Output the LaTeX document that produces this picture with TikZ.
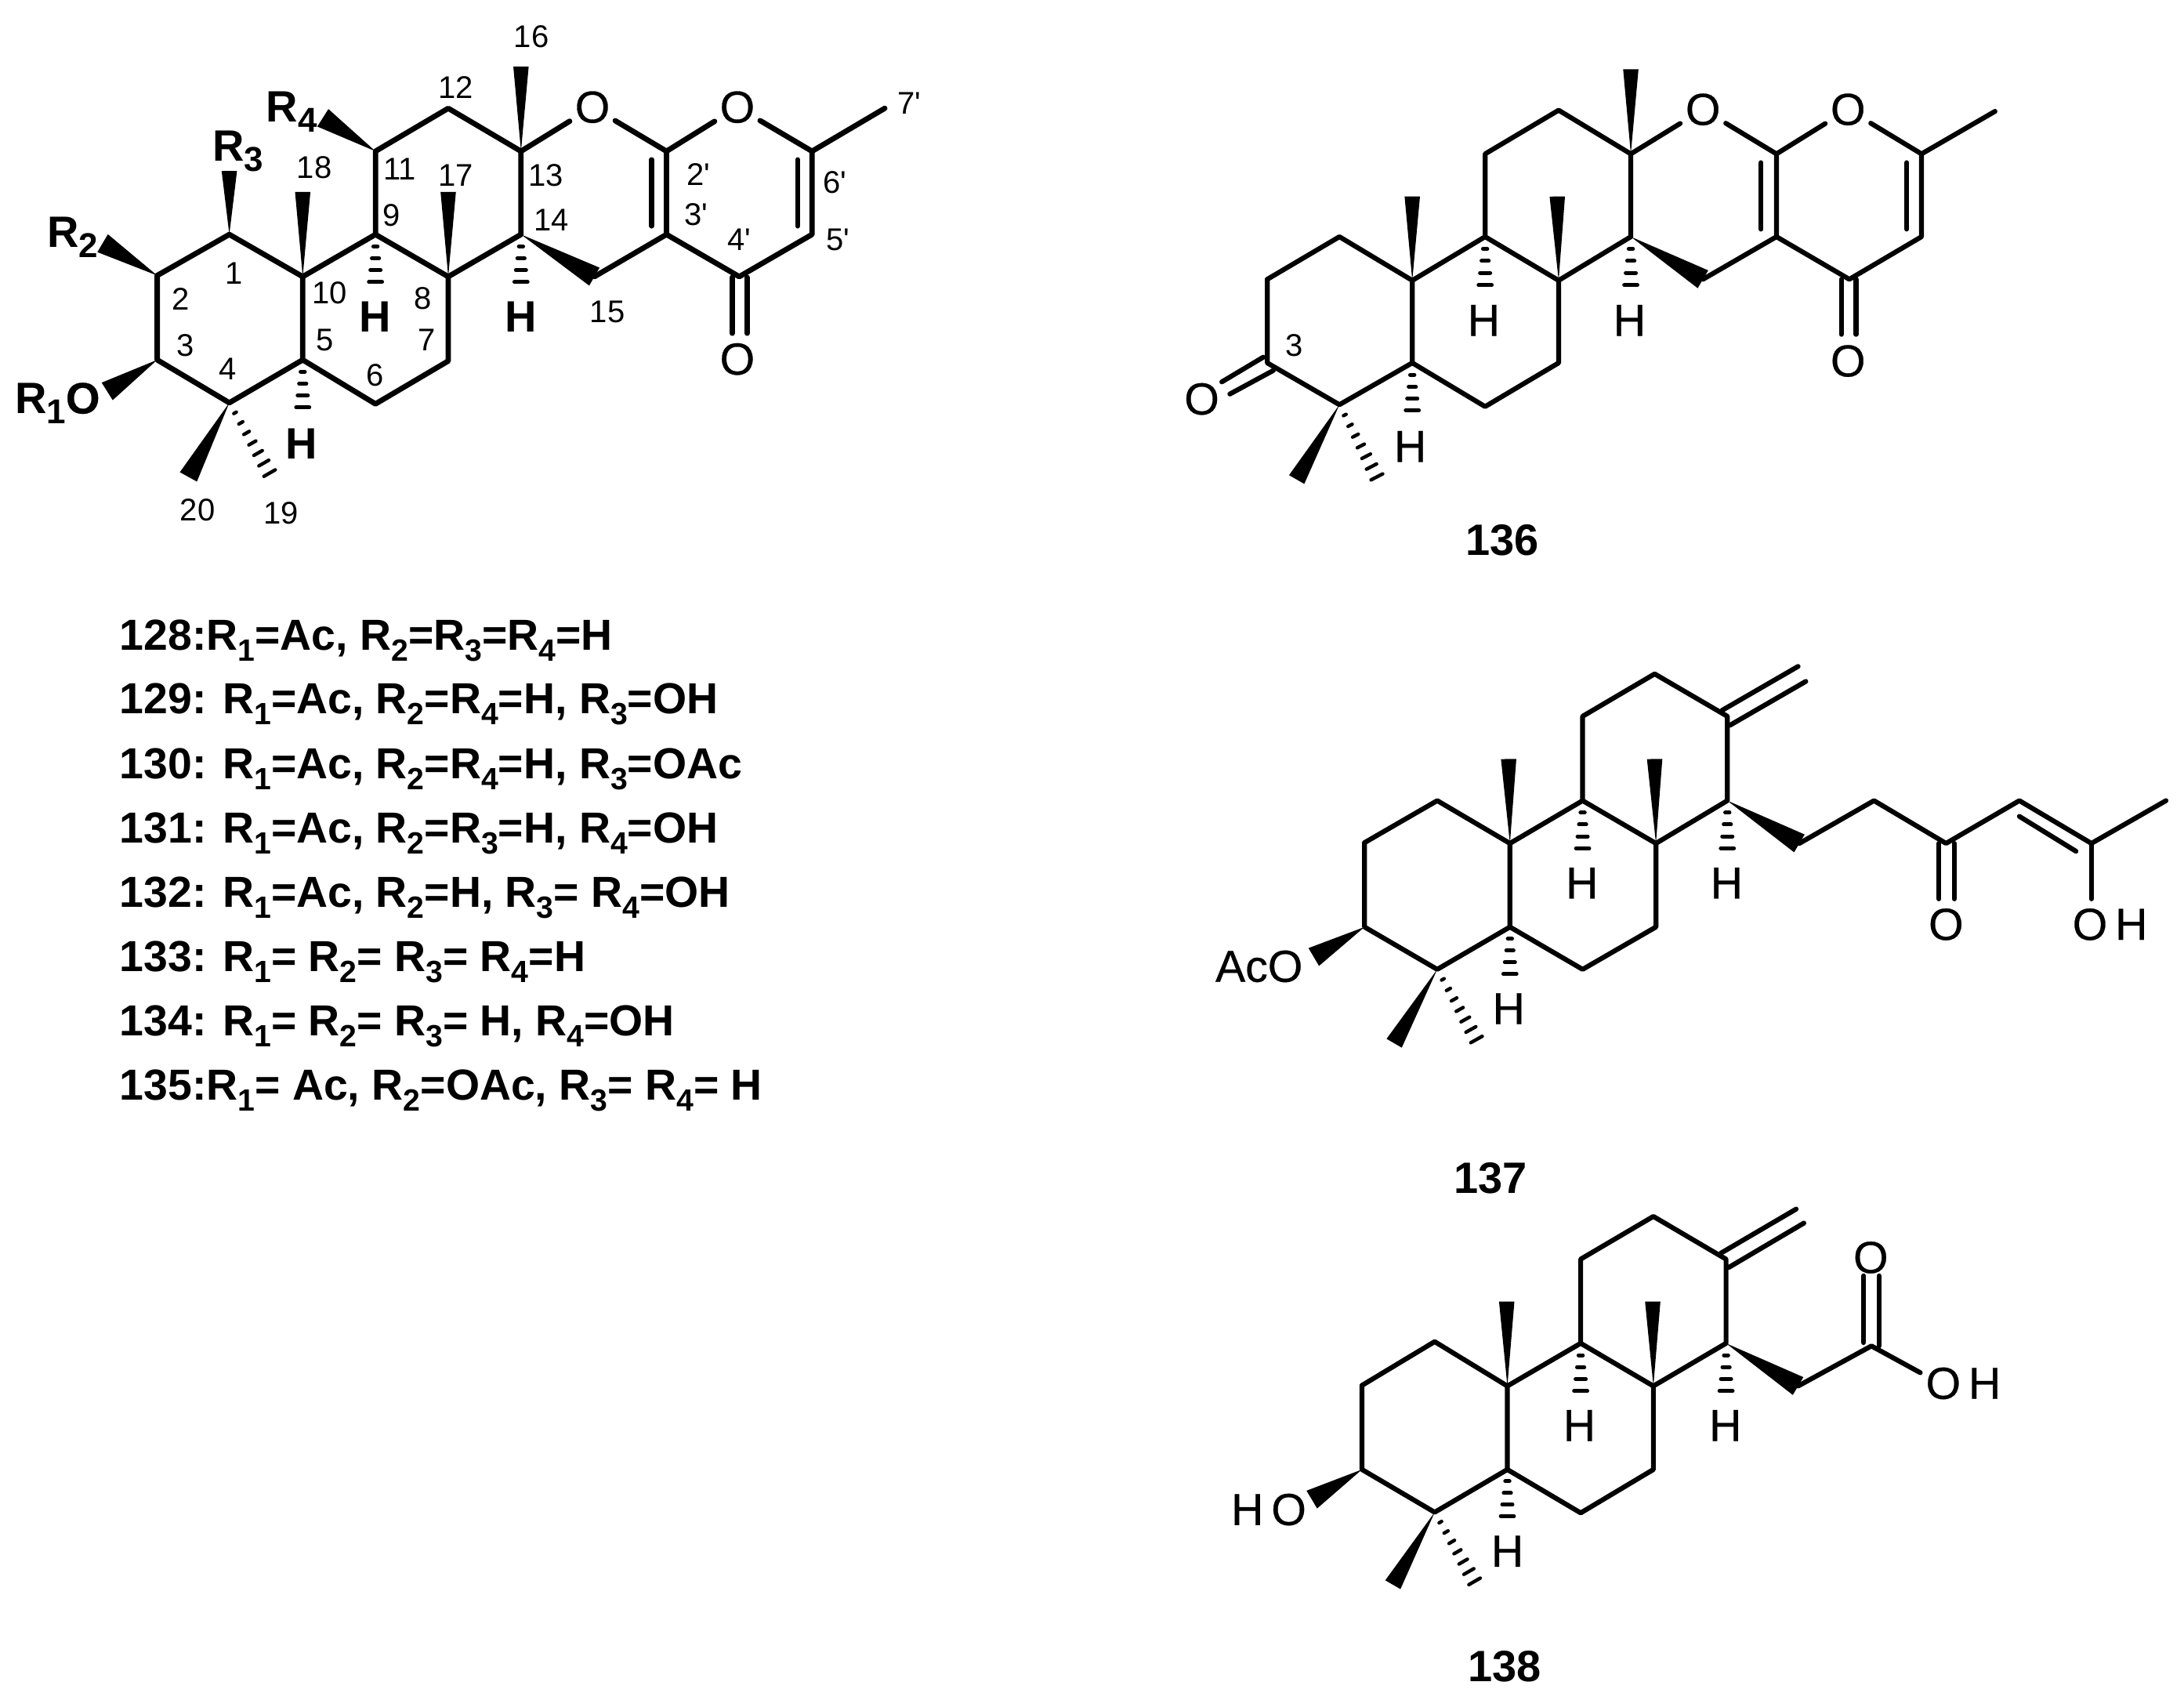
\documentclass[tikz,border=0pt]{standalone}
\usepackage{fontspec}
\setmainfont{Liberation Sans}
\newfontfamily\atomfont[FakeBold=0.5]{Liberation Sans}
\usetikzlibrary{calc}
\newcommand{\wdg}[3][2.45pt]{\fill (#2) -- ($(#3)!#1!90:(#2)$) -- ($(#3)!#1!-90:(#2)$) -- cycle;}
\newcommand{\hsh}[4][1.25pt]{%
  \foreach \i in {1,...,#4}{%
    \pgfmathsetmacro\hT{\i/#4}%
    \pgfmathsetlengthmacro\hW{0.2pt+1.9pt*\hT}%
    \path ($(#2)!\hT!(#3)$) coordinate (hm);
    \draw[line width=#1,line cap=round] ($(hm)!\hW!90:(#2)$) -- ($(hm)!\hW!-90:(#2)$);
  }}
\newcommand{\Rs}[1]{R\raisebox{-3.5pt}{\fontsize{9.8}{9.8}\selectfont #1}}
\newcommand{\Rt}[1]{R\raisebox{-3.3pt}{\fontsize{11}{11}\selectfont #1}}
\tikzset{
  bond/.style={line width=1.7pt,line join=round,line cap=round},
  thinb/.style={line width=1.55pt,line join=round,line cap=round},
  atom/.style={font=\fontsize{14.3}{14.3}\atomfont,inner sep=1.5pt},
  hatom/.style={font=\fontsize{14}{14}\bfseries\selectfont,inner sep=0pt},
  ratom/.style={font=\fontsize{14}{14}\bfseries\selectfont,inner sep=0pt,anchor=base west},
  num/.style={font=\fontsize{10}{10}\selectfont,inner sep=0pt},
  listline/.style={font=\fontsize{13.85}{13.85}\bfseries\selectfont,inner sep=0pt,anchor=base west},
  caption/.style={font=\fontsize{14}{14}\bfseries\selectfont,inner sep=0pt,anchor=base}
}
\begin{document}
\begin{tikzpicture}
\path[use as bounding box,fill=white] (0,0) rectangle (696.75pt,-542pt);
%% ---------------- general structure
\begin{scope}[x=.20725pt,y=-.1212pt]
\coordinate (a1) at (353,617); \coordinate (a2) at (242,725); \coordinate (a3) at (242,947);
\coordinate (a4) at (353,1060); \coordinate (a5) at (466,947); \coordinate (a6) at (578,1063);
\coordinate (a7) at (690,950); \coordinate (a8) at (690,728); \coordinate (a9) at (578,617);
\coordinate (a10) at (466,728); \coordinate (a11) at (578,398); \coordinate (a12) at (690,285);
\coordinate (a13) at (802,398); \coordinate (a14) at (802,617); \coordinate (a15) at (915,728);
\coordinate (a3p) at (1026,617); \coordinate (a2p) at (1026,398); \coordinate (a4p) at (1138,728);
\coordinate (a5p) at (1250,617); \coordinate (a6p) at (1250,398); \coordinate (a7p) at (1362,285);
\node[atom] (aO1) at (912,282) {O};
\node[atom] (aO2) at (1135,282) {O};
\node[atom] (aO3) at (1135,945) {O};
\draw[bond] (a2)--(a1)--(a10)--(a9)--(a8)--(a14)--(a13)--(a12)--(a11)--(a9);
\draw[bond] (a2)--(a3)--(a4)--(a5)--(a10);
\draw[bond] (a5)--(a6)--(a7)--(a8);
\draw[bond] (a13)--(aO1)--(a2p)--(aO2)--(a6p)--(a7p);
\draw[bond] (a2p)--(a3p)--(a15);
\draw[bond] (a3p)--(a4p)--(a5p)--(a6p);
\coordinate (ad1) at (1003,420); \coordinate (ad2) at (1003,595);
\coordinate (ad3) at (1228,420); \coordinate (ad4) at (1228,595);
\coordinate (ad5) at (1127,730); \coordinate (ad6) at (1127,877);
\coordinate (ad7) at (1150,730); \coordinate (ad8) at (1150,877);
\draw[thinb] (ad1)--(ad2); \draw[thinb] (ad3)--(ad4);
\draw[bond] (ad5)--(ad6); \draw[bond] (ad7)--(ad8);
\coordinate (aw3) at (353,450); \coordinate (aw18) at (466,505); \coordinate (aw17) at (690,505);
\coordinate (aw16) at (802,175); \coordinate (awr4) at (497,310); \coordinate (awr2) at (158,640);
\coordinate (awo) at (165,1030); \coordinate (aw20) at (290,1255);
\wdg{a1}{aw3}\wdg{a10}{aw18}\wdg{a8}{aw17}\wdg{a13}{aw16}
\wdg[3.3pt]{a11}{awr4}\wdg[3.3pt]{a2}{awr2}\wdg[3.3pt]{a3}{awo}\wdg[3.1pt]{a4}{aw20}\wdg[3.3pt]{a14}{a15}
\coordinate (ah9) at (578,742); \coordinate (ah14) at (802,742); \coordinate (ah5) at (466,1072); \coordinate (ah19) at (415,1245);
\hsh{a9}{ah9}{4}\hsh{a14}{ah14}{4}\hsh{a5}{ah5}{4}\hsh[1.1pt]{a4}{ah19}{7}
\node[hatom] (aH1) at (577,833) {H};
\node[hatom] (aH2) at (802,833) {H};
\node[hatom] (aH3) at (464,1168) {H};
\node[ratom] (aR3) at (326,423) {\Rt{3}};
\node[ratom] (aR4) at (409,320) {\Rt{4}};
\node[ratom] (aR2) at (72,650) {\Rt{2}};
\node[ratom] (aR1) at (22,1088) {\Rt{1}\atomfont O};
\foreach \t/\p/\q/\nm in {16/818/97/n16,12/702/230/n12,18/484/441/n18,11/615/445/n11,17/702/461/n17,13/840/462/n13,2\textquotesingle/1075/460/n2p,6\textquotesingle/1285/480/n6p,7\textquotesingle/1400/272/n7p,9/603/567/n9,14/849/580/n14,3\textquotesingle/1072/564/n3p,4\textquotesingle/1138/630/n4p,5\textquotesingle/1290/630/n5p,1/360/719/n1,10/507/770/n10,8/651/786/n8,2/278/787/n2,15/935/821/n15,3/285/909/n3,5/500/895/n5,7/657/895/n7,4/350/970/n4,6/577/987/n6,20/304/1343/n20,19/433/1351/n19}
  \node[num] (\nm) at (\p,\q) {\t};
\end{scope}
%% ---------------- list
\begin{scope}[x=.25pt,y=-.25pt]
\node[listline] (l128) at (152,829) {128:\Rs{1}=Ac, \Rs{2}=\Rs{3}=\Rs{4}=H};
\node[listline] (l129) at (152,910.4) {129: \Rs{1}=Ac, \Rs{2}=\Rs{4}=H, \Rs{3}=OH};
\node[listline] (l130) at (152,993) {130: \Rs{1}=Ac, \Rs{2}=\Rs{4}=H, \Rs{3}=OAc};
\node[listline] (l131) at (152,1075) {131: \Rs{1}=Ac, \Rs{2}=\Rs{3}=H, \Rs{4}=OH};
\node[listline] (l132) at (152,1157) {132: \Rs{1}=Ac, \Rs{2}=H, \Rs{3}= \Rs{4}=OH};
\node[listline] (l133) at (152,1239) {133: \Rs{1}= \Rs{2}= \Rs{3}= \Rs{4}=H};
\node[listline] (l134) at (152,1321) {134: \Rs{1}= \Rs{2}= \Rs{3}= H, \Rs{4}=OH};
\node[listline] (l135) at (152,1403) {135:\Rs{1}= Ac, \Rs{2}=OAc, \Rs{3}= \Rs{4}= H};
\node[caption] (c136) at (1917,708) {136};
\node[caption] (c137) at (1902,1522) {137};
\node[caption] (c138) at (1920,2145) {138};
\end{scope}
%% ---------------- 136
\begin{scope}[shift={(362.5pt,0pt)},x=.2132pt,y=-.1212pt]
\coordinate (b1) at (304,623); \coordinate (b2) at (196,735); \coordinate (b3) at (196,955);
\coordinate (b4) at (304,1065); \coordinate (b5) at (413,955); \coordinate (b6) at (522,1070);
\coordinate (b7) at (632,955); \coordinate (b8) at (632,738); \coordinate (b9) at (522,623);
\coordinate (b10) at (413,738); \coordinate (b11) at (522,405); \coordinate (b12) at (632,290);
\coordinate (b13) at (740,405); \coordinate (b14) at (740,623); \coordinate (b15) at (848,735);
\coordinate (b3p) at (958,623); \coordinate (b2p) at (958,405); \coordinate (b4p) at (1067,735);
\coordinate (b5p) at (1175,623); \coordinate (b6p) at (1175,405); \coordinate (b7p) at (1285,293);
\node[atom] (bO1) at (848,288) {O};
\node[atom] (bO2) at (1065,288) {O};
\node[atom] (bO3) at (1065,950) {O};
\node[atom] (bO4) at (98,1050) {O};
\draw[thinb] (b2)--(b1)--(b10)--(b9)--(b8)--(b14)--(b13)--(b12)--(b11)--(b9);
\draw[thinb] (b2)--(b3)--(b4)--(b5)--(b10);
\draw[thinb] (b5)--(b6)--(b7)--(b8);
\draw[thinb] (b13)--(bO1)--(b2p)--(bO2)--(b6p)--(b7p);
\draw[thinb] (b2p)--(b3p)--(b15);
\draw[thinb] (b3p)--(b4p)--(b5p)--(b6p);
\coordinate (bd1) at (935,428); \coordinate (bd2) at (935,603);
\coordinate (bd3) at (1153,428); \coordinate (bd4) at (1153,603);
\coordinate (bd5) at (1055,735); \coordinate (bd6) at (1055,880);
\coordinate (bd7) at (1077,735); \coordinate (bd8) at (1077,880);
\coordinate (bd9) at (190,940); \coordinate (bd10) at (128,1005);
\coordinate (bd11) at (205,975); \coordinate (bd12) at (140,1037);
\draw[thinb] (bd1)--(bd2); \draw[thinb] (bd3)--(bd4); \draw[thinb] (bd5)--(bd6); \draw[thinb] (bd7)--(bd8);
\draw[thinb] (bd9)--(bd10); \draw[thinb] (bd11)--(bd12);
\coordinate (bw1) at (413,517); \coordinate (bw2) at (630,517); \coordinate (bw3) at (740,182); \coordinate (bw4) at (240,1262);
\wdg{b10}{bw1}\wdg{b8}{bw2}\wdg{b13}{bw3}\wdg[2.8pt]{b4}{bw4}\wdg[3.3pt]{b14}{b15}
\coordinate (bh1) at (522,750); \coordinate (bh2) at (740,750); \coordinate (bh3) at (413,1080); \coordinate (bh4) at (360,1255);
\hsh{b9}{bh1}{4}\hsh{b14}{bh2}{4}\hsh{b5}{bh3}{4}\hsh[1.1pt]{b4}{bh4}{7}
\node[atom,inner sep=0pt] (bH1) at (520,843) {H};
\node[atom,inner sep=0pt] (bH2) at (738,843) {H};
\node[atom,inner sep=0pt] (bH3) at (410,1175) {H};
\node[num] (bn3) at (237,910) {3};
\end{scope}
%% ---------------- 137
\begin{scope}[shift={(375pt,-200pt)},x=.2052pt,y=-.1196pt]
\coordinate (c1) at (407,463); \coordinate (c2) at (294,575); \coordinate (c3) at (294,800);
\coordinate (c4) at (407,913); \coordinate (c5) at (520,800); \coordinate (c6) at (633,913);
\coordinate (c7) at (747,800); \coordinate (c8) at (747,577); \coordinate (c9) at (633,463);
\coordinate (c10) at (520,577); \coordinate (c11) at (633,238); \coordinate (c12) at (745,125);
\coordinate (c13) at (858,238); \coordinate (c14) at (858,463); \coordinate (c15) at (970,577);
\coordinate (c16) at (1086,463); \coordinate (c17) at (1198,577); \coordinate (c18) at (1312,463);
\coordinate (c19) at (1424,577); \coordinate (c20) at (1540,463); \coordinate (c21) at (1424,725);
\draw[thinb] (c2)--(c1)--(c10)--(c9)--(c8)--(c14)--(c13)--(c12)--(c11)--(c9);
\draw[thinb] (c2)--(c3)--(c4)--(c5)--(c10);
\draw[thinb] (c5)--(c6)--(c7)--(c8);
\draw[thinb] (c15)--(c16)--(c17)--(c18)--(c19)--(c20);
\draw[thinb] (c19)--(c21);
\coordinate (cd1) at (850,222); \coordinate (cd2) at (968,105);
\coordinate (cd3) at (862,262); \coordinate (cd4) at (980,145);
\coordinate (cd5) at (1187,577); \coordinate (cd6) at (1187,725);
\coordinate (cd7) at (1211,577); \coordinate (cd8) at (1211,725);
\coordinate (cd9) at (1312,505); \coordinate (cd10) at (1400,598);
\draw[thinb] (cd1)--(cd2); \draw[thinb] (cd3)--(cd4); \draw[thinb] (cd5)--(cd6); \draw[thinb] (cd7)--(cd8); \draw[thinb] (cd9)--(cd10);
\coordinate (cw1) at (518,352); \coordinate (cw2) at (745,352); \coordinate (cw3) at (340,1110); \coordinate (cw4) at (215,880);
\wdg{c10}{cw1}\wdg{c8}{cw2}\wdg[2.8pt]{c4}{cw3}\wdg[3.3pt]{c3}{cw4}\wdg[3.3pt]{c14}{c15}
\coordinate (ch1) at (633,590); \coordinate (ch2) at (858,590); \coordinate (ch3) at (520,925); \coordinate (ch4) at (468,1100);
\hsh{c9}{ch1}{4}\hsh{c14}{ch2}{4}\hsh{c5}{ch3}{4}\hsh[1.1pt]{c4}{ch4}{7}
\node[atom,inner sep=0pt] (cH1) at (632,683) {H};
\node[atom,inner sep=0pt] (cH2) at (857,683) {H};
\node[atom,inner sep=0pt] (cH3) at (518,1018) {H};
\node[atom,inner sep=0pt] (cAc) at (130,905) {AcO};
\node[atom,inner sep=0pt] (cO1) at (1198,793) {O};
\node[atom,inner sep=0pt] (cO2) at (1453,793) {O\kern2.5pt H};
\end{scope}
%% ---------------- 138
\begin{scope}[shift={(375pt,-375pt)},x=.2052pt,y=-.1065pt]
\coordinate (d1) at (403,497); \coordinate (d2) at (290,628); \coordinate (d3) at (290,880);
\coordinate (d4) at (403,1008); \coordinate (d5) at (516,880); \coordinate (d6) at (630,1010);
\coordinate (d7) at (743,880); \coordinate (d8) at (743,630); \coordinate (d9) at (630,502);
\coordinate (d10) at (516,630); \coordinate (d11) at (630,250); \coordinate (d12) at (743,122);
\coordinate (d13) at (856,250); \coordinate (d14) at (856,502); \coordinate (d15) at (968,630);
\coordinate (d16) at (1082,510); \coordinate (d17) at (1158,590);
\draw[thinb] (d2)--(d1)--(d10)--(d9)--(d8)--(d14)--(d13)--(d12)--(d11)--(d9);
\draw[thinb] (d2)--(d3)--(d4)--(d5)--(d10);
\draw[thinb] (d5)--(d6)--(d7)--(d8);
\draw[thinb] (d15)--(d16)--(d17);
\coordinate (dd1) at (848,232); \coordinate (dd2) at (965,100);
\coordinate (dd3) at (860,275); \coordinate (dd4) at (977,142);
\coordinate (dd5) at (1070,500); \coordinate (dd6) at (1070,300);
\coordinate (dd7) at (1094,510); \coordinate (dd8) at (1094,300);
\draw[thinb] (dd1)--(dd2); \draw[thinb] (dd3)--(dd4); \draw[thinb] (dd5)--(dd6); \draw[thinb] (dd7)--(dd8);
\coordinate (dw1) at (515,377); \coordinate (dw2) at (742,377); \coordinate (dw3) at (338,1225); \coordinate (dw4) at (212,970);
\wdg{d10}{dw1}\wdg{d8}{dw2}\wdg[2.8pt]{d4}{dw3}\wdg[3.3pt]{d3}{dw4}\wdg[3.3pt]{d14}{d15}
\coordinate (dh1) at (630,645); \coordinate (dh2) at (856,645); \coordinate (dh3) at (516,1020); \coordinate (dh4) at (465,1215);
\hsh{d9}{dh1}{4}\hsh{d14}{dh2}{4}\hsh{d5}{dh3}{4}\hsh[1.1pt]{d4}{dh4}{7}
\node[atom,inner sep=0pt] (dH1) at (628,748) {H};
\node[atom,inner sep=0pt] (dH2) at (855,748) {H};
\node[atom,inner sep=0pt] (dH3) at (516,1125) {H};
\node[atom,inner sep=0pt] (dHO) at (145,1000) {H\kern2.5pt O};
\node[atom,inner sep=0pt] (dO1) at (1081,245) {O};
\node[atom,inner sep=0pt] (dO2) at (1225,622) {O\kern2.5pt H};
\end{scope}
\end{tikzpicture}
\end{document}
